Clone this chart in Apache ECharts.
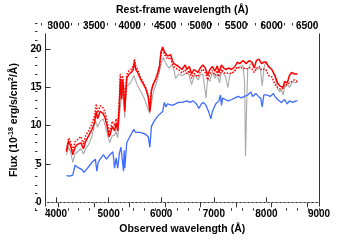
<!DOCTYPE html>
<html><head><meta charset="utf-8">
<script src="https://cdn.jsdelivr.net/npm/echarts@6.0.0/dist/echarts.min.js"></script>
<style>html,body{margin:0;padding:0;background:#fff}#c{width:355px;height:240px}</style>
</head><body><div id="c"></div>
<script>
// Observed wavelength (Å) for the red spectra
var wlRed = [4197,4239,4276,4318,4362,4410,4472,4520,4564,4624,4684,4728,4765,4789,4838,4886,4930,4972,5008,5032,5069,5113,5142,5173,5204,5223,5248,5265,5283,5307,5344,5387,5430,5467,5491,5516,5552,5600,5662,5709,5753,5783,5814,5845,5874,5918,5966,5997,6028,6058,6089,6120,6149,6180,6211,6241,6272,6332,6394,6413,6455,6486,6534,6578,6620,6656,6698,6742,6790,6839,6882,6926,6973,7023,7065,7096,7145,7187,7230,7279,7339,7402,7449,7493,7554,7614,7676,7724,7768,7810,7859,7907,7951,7993,8042,8103,8163,8213,8255,8286,8317,8346,8396,8438,8482,8530,8592];
var fluxRed = [6.6,7.97,7.38,6.21,7.19,7.57,7.77,6.99,7.97,8.75,9.53,10.32,11.87,10.9,11.87,11.68,11.1,9.92,8.56,8.94,9.92,9.33,10.32,9.33,12.66,16.18,13.43,16.0,15.0,11.87,16.18,16.76,16.96,17.35,18.32,17.35,16.96,16.18,15.39,14.81,13.83,11.87,14.61,15.39,15.78,16.56,17.74,19.7,20.28,19.7,19.88,19.1,18.91,19.3,18.52,18.12,18.32,17.74,17.35,17.35,17.94,17.35,17.74,16.76,17.35,17.54,16.96,17.54,17.94,17.54,16.56,17.35,17.74,17.15,17.82,16.96,17.94,17.54,17.35,17.54,17.35,17.74,18.32,18.12,18.52,18.12,18.52,18.32,17.54,18.52,18.71,18.12,18.32,18.32,17.74,17.35,16.56,15.59,15.2,15.39,15.0,15.78,15.59,16.56,16.96,16.76,16.76];
var fluxRedDotted = [6.9,8.4,7.9,6.8,7.9,8.2,8.6,7.6,8.7,9.4,10.3,11.2,12.85,11.7,12.6,12.46,11.8,10.5,9.1,9.5,10.6,10.0,10.9,9.9,13.4,16.8,14.0,16.56,15.5,12.3,16.7,17.2,17.4,17.8,18.71,17.8,17.3,16.4,15.6,14.9,13.9,11.9,14.6,15.3,15.7,16.4,17.5,19.4,20.1,19.4,19.5,18.7,18.5,18.9,18.1,17.7,17.8,17.3,16.9,16.9,17.3,16.8,17.2,16.2,16.8,17.0,16.4,17.0,17.4,16.9,16.0,16.8,17.2,16.6,17.2,16.4,17.4,17.0,16.8,16.9,16.8,17.2,17.7,17.5,17.6,17.4,17.6,17.4,16.96,17.5,17.74,17.3,17.4,17.3,16.56,16.37,15.39,15.0,14.81,14.85,14.9,15.39,15.4,15.6,15.78,15.98,15.78];
// Gray spectrum
var wlGray = [4197,4239,4276,4318,4362,4410,4472,4520,4564,4624,4684,4747,4789,4838,4899,4954,5021,5069,5113,5142,5173,5204,5248,5283,5307,5325,5417,5479,5540,5600,5662,5723,5783,5845,5937,5997,6039,6089,6149,6199,6241,6272,6332,6394,6455,6516,6578,6638,6698,6742,6790,6852,6882,6926,6973,7023,7065,7109,7145,7187,7224,7266,7310,7370,7431,7493,7554,7585,7603,7627,7645,7706,7768,7828,7883,7920,7951,7981,8042,8103,8163,8213,8255,8286,8317,8346,8408,8438,8500,8561,8592];
var fluxGray = [6.2,7.2,6.6,5.23,6.3,6.6,7.0,6.3,7.0,7.6,8.6,10.7,9.8,10.6,10.9,9.5,7.8,8.7,8.75,9.3,8.4,11.1,14.6,13.5,11.0,15.0,15.6,16.56,15.4,14.6,13.83,12.66,11.6,14.22,16.18,18.12,18.91,18.12,17.54,17.94,17.35,16.18,16.76,16.56,16.76,16.96,15.39,16.7,15.98,16.6,16.76,13.63,16.18,15.8,16.96,16.2,16.8,15.59,17.1,16.8,16.4,15.0,16.8,17.0,17.54,17.7,17.94,15.78,6.0,13.43,17.35,18.12,17.74,17.3,17.6,15.2,17.35,18.32,17.6,17.35,16.37,14.81,14.42,14.8,14.02,15.0,15.39,15.0,15.78,15.59,15.78];
// Blue spectrum
var wlBlue = [4197,4258,4318,4362,4404,4441,4496,4532,4587,4642,4684,4747,4776,4802,4844,4899,4959,5021,5082,5113,5142,5173,5204,5234,5265,5283,5296,5307,5344,5387,5417,5479,5508,5600,5691,5754,5783,5814,5845,5874,5906,5937,5966,6028,6058,6089,6120,6149,6211,6272,6332,6394,6424,6486,6547,6607,6669,6717,6761,6803,6852,6900,6944,6973,7035,7096,7127,7145,7169,7218,7279,7339,7402,7462,7522,7585,7645,7706,7737,7797,7847,7889,7920,7951,8011,8072,8134,8163,8213,8236,8286,8346,8396,8438,8500,8561,8592];
var fluxBlue = [3.47,3.43,3.55,4.84,4.6,4.64,4.26,3.9,4.37,4.84,5.23,5.63,4.06,5.23,5.66,6.21,5.63,6.21,6.6,4.45,5.81,4.45,6.4,7.19,5.23,4.06,6.8,4.45,7.77,8.36,8.56,9.53,9.14,9.14,8.94,8.56,7.19,9.92,9.73,10.7,10.5,11.29,11.1,11.87,13.05,12.46,12.85,12.66,12.66,12.85,13.05,13.05,13.05,13.25,13.05,13.25,12.85,12.26,12.85,13.05,12.66,11.87,10.9,11.87,12.85,13.25,14.02,12.66,13.63,13.43,13.25,13.43,13.63,13.83,13.63,13.83,14.02,14.42,13.83,14.22,13.83,13.63,12.46,14.02,14.02,13.83,14.22,13.83,13.43,13.63,13.05,13.43,12.85,13.25,13.05,13.25,13.25];

var xTicks = [4000,5000,6000,7000,8000,9000];
var restTicks = [3000,3500,4000,4500,5000,5500,6000,6500];
var yTicks = [0,5,10,15,20];
var onePlusZ = 1.35;
var X_MIN = 3800, X_MAX = 9000, Y_MIN = -0.5, Y_MAX = 22;

function range(a, b, s){ var r=[]; for (var i=0; a+i*s<=b+1e-9; i++) r.push(a+i*s); return r; }
function pairs(xs, ys){ return xs.map(function(x,i){ return [x, ys[i]]; }); }
function plain(v){ return String(Math.round(v)); }

var frame = '#333';
var font = 'Liberation Sans, Arial, sans-serif';
var lab = {fontSize:10, fontWeight:'bold', color:'#000', fontFamily:font, formatter:plain};
var nameStyle = {fontSize:10.5, fontWeight:'bold', color:'#000', fontFamily:font};
var G = {left:35, right:36, top:23, bottom:25};

var chart = echarts.init(document.getElementById('c'), null, {renderer:'canvas'});
chart.setOption({
  animation:false,
  backgroundColor:'#fff',
  grid:[Object.assign({show:false}, G), Object.assign({show:false}, G)],
  xAxis:[
    {gridIndex:0, type:'value', position:'bottom', min:X_MIN, max:X_MAX,
     axisLine:{show:true, lineStyle:{color:frame, width:1}},
     axisTick:{show:true, inside:true, length:5, customValues:xTicks, lineStyle:{color:frame}},
     axisLabel:Object.assign({show:true, customValues:xTicks, margin:3}, lab),
     splitLine:{show:false},
     name:'Observed wavelength (Å)', nameLocation:'middle', nameGap:15, nameTextStyle:nameStyle},
    {gridIndex:0, type:'value', position:'top', min:X_MIN/onePlusZ, max:X_MAX/onePlusZ,
     axisLine:{show:true, lineStyle:{color:frame, width:1}},
     axisTick:{show:true, inside:true, length:5, customValues:restTicks, lineStyle:{color:frame}},
     axisLabel:Object.assign({show:true, customValues:restTicks, margin:3}, lab),
     splitLine:{show:false},
     name:'Rest-frame wavelength (Å)', nameLocation:'middle', nameGap:15, nameTextStyle:nameStyle},
    {gridIndex:1, type:'value', position:'bottom', min:X_MIN, max:X_MAX,
     axisLine:{show:false}, axisLabel:{show:false}, splitLine:{show:false},
     axisTick:{show:true, inside:true, length:2.5, customValues:range(3800,9000,200), lineStyle:{color:frame}}},
    {gridIndex:1, type:'value', position:'top', min:X_MIN/onePlusZ, max:X_MAX/onePlusZ,
     axisLine:{show:false}, axisLabel:{show:false}, splitLine:{show:false},
     axisTick:{show:true, inside:true, length:2.5, customValues:range(2900,6600,100), lineStyle:{color:frame}}}
  ],
  yAxis:[
    {gridIndex:0, type:'value', position:'left', min:Y_MIN, max:Y_MAX,
     axisLine:{show:true, lineStyle:{color:frame, width:1}},
     axisTick:{show:true, inside:true, length:5, customValues:yTicks, lineStyle:{color:frame}},
     axisLabel:Object.assign({show:true, customValues:yTicks, margin:4}, lab),
     splitLine:{show:false},
     name:'Flux (10{sup|-18} erg/s/cm{sup|2}/Å)', nameLocation:'middle', nameGap:20, nameRotate:90,
     nameTextStyle:Object.assign({}, nameStyle, {rich:{sup:{fontSize:7, fontWeight:'bold', verticalAlign:'top', padding:[0,0,5,0], fontFamily:font}}})},
    {gridIndex:0, type:'value', position:'right', min:Y_MIN, max:Y_MAX,
     axisLine:{show:true, lineStyle:{color:frame, width:1}},
     axisTick:{show:false}, axisLabel:{show:false}, splitLine:{show:false}},
    {gridIndex:1, type:'value', position:'left', min:Y_MIN, max:Y_MAX,
     axisLine:{show:false}, axisLabel:{show:false}, splitLine:{show:false},
     axisTick:{show:true, inside:true, length:2.5, customValues:range(0,22,1), lineStyle:{color:frame}}}
  ],
  series:[
    {type:'line', xAxisIndex:0, yAxisIndex:0, data:pairs(wlGray, fluxGray), showSymbol:false, symbol:'none',
     lineStyle:{color:'#a8a8a8', width:1.1}, z:2,
     markLine:{silent:true, symbol:'none', label:{show:false}, lineStyle:{color:'#aaa', type:[2,2], width:1},
               data:[{yAxis:0}]}},
    {type:'line', xAxisIndex:0, yAxisIndex:0, data:pairs(wlBlue, fluxBlue), showSymbol:false, symbol:'none',
     lineStyle:{color:'#3d6bff', width:1.3}, z:3},
    {type:'line', xAxisIndex:0, yAxisIndex:0, data:pairs(wlRed, fluxRed), showSymbol:false, symbol:'none',
     lineStyle:{color:'#ff0000', width:1.5}, z:4},
    {type:'line', xAxisIndex:0, yAxisIndex:0, data:pairs(wlRed, fluxRedDotted), showSymbol:false, symbol:'none',
     lineStyle:{color:'#ff0000', width:1.5, type:[1.5,1.5]}, z:5}
  ]
});
</script></body></html>
